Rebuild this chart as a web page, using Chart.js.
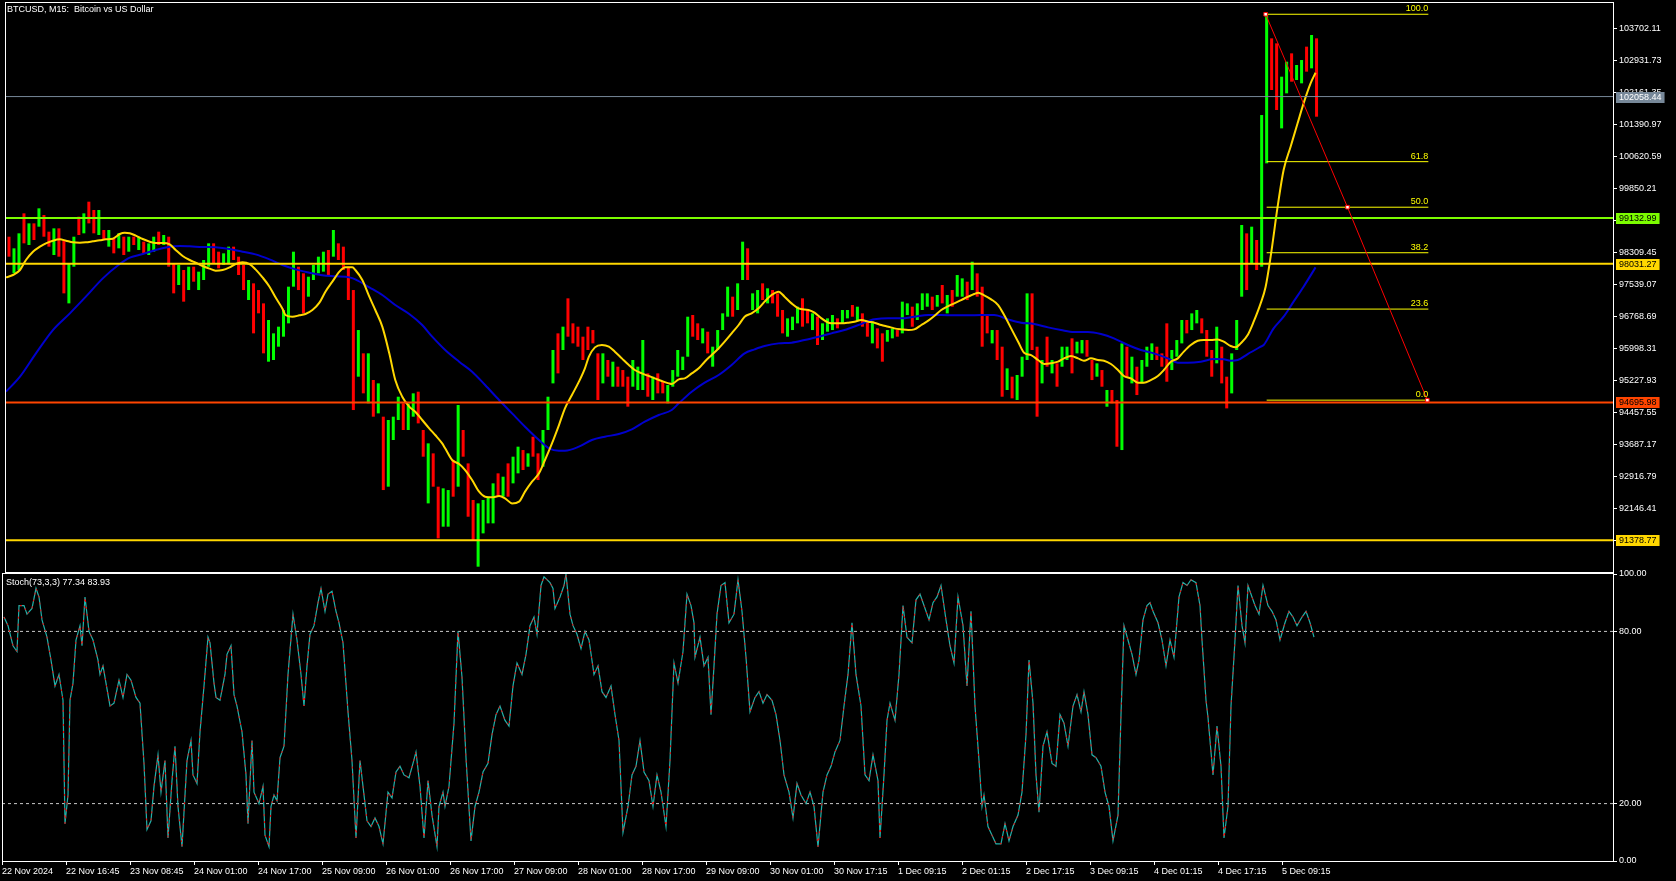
<!DOCTYPE html>
<html><head><meta charset="utf-8">
<script src="https://cdn.jsdelivr.net/npm/chart.js@4.4.1/dist/chart.umd.min.js"></script>
<style>
html,body{margin:0;padding:0;background:#000;}
#wrap{position:relative;width:1676px;height:881px;background:#000;overflow:hidden;}
canvas{position:absolute;left:0;}
#c1{top:0;}
#c2{top:560px;}
</style></head><body>
<div id="wrap">
<canvas id="c1" width="1676" height="573"></canvas>
<canvas id="c2" width="1676" height="321"></canvas>
</div>
<script>
// ---- DATA ----
const chartTitle = 'BTCUSD, M15:  Bitcoin vs US Dollar';
const stochTitle = 'Stoch(73,3,3) 77.34 83.93';
// x-axis labels, one every 64 M15 bars
const xTickLabels = ['22 Nov 2024','22 Nov 16:45','23 Nov 08:45','24 Nov 01:00','24 Nov 17:00','25 Nov 09:00','26 Nov 01:00','26 Nov 17:00','27 Nov 09:00','28 Nov 01:00','28 Nov 17:00','29 Nov 09:00','30 Nov 01:00','30 Nov 17:15','1 Dec 09:15','2 Dec 01:15','2 Dec 17:15','3 Dec 09:15','4 Dec 01:15','4 Dec 17:15','5 Dec 09:15'];
const priceTicks = [91376.03,92146.41,92916.79,93687.17,94457.55,95227.93,95998.31,96768.69,97539.07,98309.45,99079.83,99850.21,100620.59,101390.97,102161.35,102931.73,103702.11];
const stochTicks = [0,20,80,100];
const stochLevels = [80,20];
// candle groups (each = 5 x M15 bars): high, low, direction (g up / r down)
const candleHigh = [
98685,98405,98766,99247,99006,99006,99368,99207,98806,98886,
98886,98605,98043,98685,99167,99247,99528,99328,99328,98846,
98846,98645,98766,98685,98685,98685,98685,98565,98525,98685,
98806,98726,98685,98043,98003,97883,97963,97963,97843,98124,
98525,98525,98324,98284,98445,98445,98204,98003,97642,97562,
97401,97080,96679,96358,96519,96920,97482,98324,97963,97803,
97722,98003,98204,98324,98364,98846,98525,98445,97963,97401,
96438,95877,95877,95235,95154,94352,94272,94352,94833,94673,
94673,94914,94954,94031,93710,93469,92667,
92627,92586,93309,94633,94031,93228,92346,92265,92346,92426,
92747,92988,92907,93228,93389,93630,93549,93469,93870,93469,
94031,94833,95957,96358,96519,97201,96599,96519,96278,96519,
96438,95877,95877,95716,95676,95556,95475,95315,95716,95556,
96198,95395,95315,95395,95195,95114,95475,95957,95796,96759,
96800,96599,96479,96398,96037,96438,96840,97482,97241,97562,
98565,98405,97321,97401,97562,97442,97401,97321,96920,96719,
96759,97000,97201,96920,96840,96759,96599,96719,96800,96719,
96920,96920,97040,97000,96840,96679,
96639,96478,96358,96438,96478,96438,97121,97080,97000,97080,
97321,97321,97241,97281,97522,97281,97401,97762,97682,97602,
98083,97802,97481,96799,96438,96438,96037,95515,95315,95355,
95796,97321,97321,96037,95716,96278,95716,95636,96037,96037,
96238,96157,96197,96197,95716,95636,95475,94994,94994,94753,
96117,96037,95796,95555,95716,96037,96117,96037,95876,96599,
95957,96197,96679,96679,96839,96920,96719,96438,95957,96518,
96037,95315,95876,96679,98966,98765,98926,98605,101614,104062,
103460,103340,102537,102898,103099,102818,102938,103260,103540,103460];
const candleLow = [
98204,97803,97883,98525,98485,98605,98926,98685,98445,98244,
98204,97321,97080,97963,98726,98766,99006,98766,98726,98605,
98445,98284,98405,98244,98324,98485,98364,98284,98244,98324,
98485,98485,97963,97321,97522,97121,97401,97602,97401,97642,
97963,98043,97923,98003,98043,98124,97763,97401,97161,96358,
96840,95877,95676,95716,96037,96278,96599,97482,97401,96840,
97241,97642,97803,97843,97763,98204,98124,97883,97161,94512,
95315,94914,94673,94352,94432,92586,92667,93790,94272,94031,
94031,94352,94191,93389,92265,92667,91423,
91704,91704,92426,92667,93389,91944,91383,90741,91543,91784,
91784,92426,92426,92426,92747,92988,93068,93148,93389,92827,
93148,94031,95154,95395,95957,96278,96117,96037,95716,95957,
96117,94753,95154,95315,95074,95074,95074,94593,95074,94994,
94994,94833,94753,94914,94914,94673,95074,95315,95475,95796,
96278,96198,96117,95877,95556,95957,96438,96759,96759,96920,
97642,97642,96920,96840,97161,97080,97080,96759,96358,96278,
96438,96599,96519,96599,96438,96077,96198,96398,96438,96479,
96599,96719,96759,96679,96519,96278,
96117,95997,95676,96157,96238,96278,96358,96799,96518,96679,
96920,97000,96920,97000,97080,96839,97000,97241,97241,97160,
97401,97241,96037,96358,96117,95716,94833,94994,94793,94753,
95315,95716,95957,94352,95154,95555,95395,95074,95555,95716,
95395,95876,95876,95796,95234,95315,95074,94592,94673,93629,
93549,95315,95154,94873,95154,95555,95716,95716,95555,95194,
95475,95796,96117,96358,96438,96599,96358,95796,95315,95636,
95154,94552,94913,95957,97241,97401,98043,97883,97963,100451,
102216,101735,101293,102136,102417,102457,102377,102658,102738,101574];
const candleDir =
'rggrgrgrrg'+'rrggrgrrgr'+'grgrgrgrgg'+'rgrrgrgrgg'+'grrggrrrgr'+'rrggggggrr'+'ggggrgrrrr'+'grgrgrgggr'+'ggrrgrr'+
'ggrgrrrggg'+'grgrggrgrr'+'gggrgrrrrr'+'rrgrgrrrgg'+'grgrrggggg'+'rrgrggggrg'+'grggrgrrrg'+'ggrrgrgggr'+'ggrgrr'+
'grrggrggrg'+'ggrgrgrggr'+'grrrgrrgrg'+'ggrrgrgrgg'+'rggrrgrgrr'+'grgrgggrrr'+'gggrggrrrg'+'rrgggrgrgg'+'rrggrggrgr';
// moving averages: [M15 bar index, price]
const maFast = [[1,97706],[8,97763],[15,97883],[21,98124],[28,98324],[35,98445],[41,98525],[48,98589],[55,98621],[61,98589],[68,98549],[75,98541],[81,98549],[88,98573],[95,98597],[101,98621],[108,98637],[115,98750],[120,98782],[125,98766],[131,98710],[138,98629],[145,98565],[151,98533],[158,98533],[165,98501],[171,98364],[178,98220],[185,98124],[191,98060],[198,97979],[205,97915],[211,97867],[218,97883],[225,97947],[231,98027],[238,98068],[245,98027],[251,97899],[258,97706],[265,97482],[271,97225],[278,96952],[281,96800],[288,96759],[295,96792],[301,96824],[308,96920],[315,97097],[321,97361],[328,97602],[335,97843],[341,97947],[348,97947],[351,97883],[358,97642],[365,97241],[371,96920],[378,96519],[385,95877],[391,95235],[398,94833],[405,94593],[411,94472],[418,94272],[425,94071],[431,93911],[438,93710],
[441,93590],[448,93309],[455,93212],[461,93068],[468,92827],[475,92546],[481,92426],[488,92410],[495,92442],[501,92386],[508,92265],[515,92306],[521,92547],[528,92787],[535,92988],[541,93309],[548,93710],[555,94151],[561,94553],[568,94874],[575,95195],[581,95516],[585,95796],[591,96021],[598,96077],[605,96037],[611,95917],[618,95756],[625,95596],[631,95475],[638,95395],[645,95331],[651,95275],[658,95211],[665,95154],[668,95138],[675,95251],[681,95275],[688,95395],[695,95516],[701,95676],[708,95837],[715,95997],[721,96158],[728,96358],[735,96559],[741,96759],[748,96840],[755,96960],[761,97121],[768,97281],[775,97361],[781,97241],[788,97080],[795,96960],[805,96920],[811,96856],[818,96719],[825,96615],[831,96599],[838,96599],[845,96615],[851,96639],[858,96679],
[865,96639],[871,96615],[878,96559],[885,96518],[891,96478],[898,96454],[905,96438],[911,96454],[918,96559],[925,96663],[931,96775],[938,96920],[945,97016],[951,97080],[958,97160],[965,97241],[971,97305],[975,97337],[981,97273],[988,97177],[995,97040],[1001,96799],[1008,96478],[1015,96157],[1021,95893],[1028,95836],[1035,95716],[1041,95620],[1048,95636],[1055,95676],[1061,95756],[1068,95812],[1075,95756],[1081,95700],[1088,95756],[1095,95716],[1101,95700],[1108,95620],[1115,95475],[1121,95331],[1128,95275],[1135,95170],[1141,95170],[1148,95234],[1155,95331],[1161,95475],[1168,95676],[1175,95756],[1181,95917],[1188,96077],[1195,96181],[1201,96197],[1208,96197],[1215,96213],[1221,96157],[1228,96053],[1233,96021],[1238,96117],[1245,96318],[1251,96639],[1258,97080],[1263,97481],[1268,98204],[1275,99407],[1281,100290],[1288,100852],[1295,101414],[1301,101895],[1308,102378],[1313,102633]];
const maSlow = [[1,94954],[15,95315],[31,95877],[48,96438],[65,96840],[81,97241],[98,97682],[115,98027],[125,98180],[138,98268],[151,98364],[165,98445],[175,98461],[185,98453],[198,98437],[211,98429],[225,98389],[238,98324],[251,98260],[265,98140],[278,98003],[291,97899],[305,97819],[318,97755],[331,97731],[345,97706],[351,97658],[365,97466],[378,97281],[391,97040],[405,96824],[418,96559],[428,96278],
[441,95957],[455,95676],[468,95435],[481,95114],[495,94753],[508,94432],[521,94111],[535,93790],[545,93590],[555,93533],[561,93533],[575,93630],[588,93790],[601,93870],[615,93935],[628,94047],[641,94232],[655,94392],[668,94512],[675,94673],[688,94954],[701,95171],[715,95355],[728,95596],[741,95877],[751,95973],[761,96053],[775,96117],[788,96134],[801,96198],[815,96278],[828,96358],[841,96438],[855,96559],[868,96679],
[871,96695],[885,96719],[898,96719],[911,96759],[925,96799],[938,96799],[951,96791],[965,96791],[978,96799],[991,96799],[1005,96695],[1018,96615],[1031,96583],[1045,96502],[1058,96438],[1071,96390],[1085,96390],[1098,96342],[1111,96238],[1125,96077],[1138,95957],[1151,95876],[1165,95756],[1175,95652],[1185,95652],[1198,95676],[1211,95740],[1221,95732],[1228,95700],[1235,95716],[1245,95860],[1258,96037],[1261,96077],[1271,96478],[1281,96759],[1291,97121],[1301,97481],[1313,97947]];
// stochastic main line: [M15 bar index, value]; the signal line reads the same at this scale
const stochMain = [[2,85],[6,82],[11,75],[15,73],[17,89],[22,89],[25,86],[30,88],[34,95],[37,92],[40,84],[45,78],[49,70],[53,61],[57,65],[61,56],[63,13],[66,23],[68,56],[71,62],[74,77],[78,82],[80,75],[83,92],[87,80],[91,77],[96,70],[98,65],[101,68],[104,62],[108,54],[112,55],[117,63],[121,57],[125,65],[129,63],[134,57],[138,55],[142,34],[145,11],[149,14],[152,26],[156,37],[159,24],[163,35],[166,8],[170,28],[173,40],[176,19],[180,5],[185,35],[189,42],[191,30],[195,27],[198,45],[202,61],[206,78],[208,76],[212,62],[214,57],[218,56],[223,65],[225,72],[229,75],[232,58],[235,54],[240,45],[244,30],[246,13],[250,42],[252,24],[257,20],[261,26],[263,9],[267,5],[269,19],[272,23],[275,21],[278,36],[282,40],[286,65],[291,86],[295,77],[299,65],[302,54],[305,68],[308,79],[312,82],[316,90],[319,95],[323,87],[326,93],[330,94],[334,87],[337,83],[341,76],[346,52],[350,35],[354,8],[358,35],[361,26],[365,14],[369,12],[373,15],[377,12],[381,6],[386,24],[390,22],[394,31],[398,33],[402,30],[407,29],[411,34],[414,38],[418,26],[422,8],[426,28],[430,16],[435,5],[437,19],[441,24],[443,19],[447,26],[452,48],[456,80],[460,64],[464,36],[469,7],[473,19],[477,24],[481,31],[486,34],[490,44],[494,51],[498,54],[503,49],[507,47],[511,61],[515,69],[520,65],[524,72],[528,82],[532,85],[535,79],[539,96],[542,99],[548,97],[551,95],[553,88],[558,92],[562,96],[564,100],[568,86],[571,82],[575,79],[579,74],[583,80],[587,77],[592,65],[596,68],[600,59],[604,57],[609,61],[613,51],[617,42],[621,10],[626,19],[630,30],[634,33],[638,42],[642,31],[647,28],[651,19],[655,30],[659,24],[664,12],[668,35],[672,69],[676,62],[681,73],[685,93],[689,89],[692,83],[693,71],[698,78],[702,68],[706,71],[709,51],[712,68],[715,86],[719,96],[723,97],[727,83],[732,86],[736,98],[740,87],[744,71],[748,52],[753,57],[757,59],[761,55],[765,58],[770,56],[774,51],[778,42],[782,30],[787,24],[791,15],[795,27],[799,23],[804,20],[808,24],[812,19],[816,5],[821,24],[825,30],[829,33],[833,38],[838,42],[842,54],[846,65],[850,83],[854,65],[859,54],[863,30],[867,28],[871,37],[876,28],[878,8],[882,30],[885,49],[888,55],[893,49],[897,65],[901,89],[905,78],[910,76],[914,91],[918,93],[922,89],[927,84],[931,90],[935,92],[939,96],[944,84],[948,75],[952,69],[956,92],[961,82],[965,61],[969,87],[973,54],[977,35],[980,19],[982,23],[986,12],[990,9],[994,6],[999,6],[1003,13],[1007,7],[1011,12],[1016,16],[1020,24],[1024,44],[1027,70],[1031,55],[1034,30],[1037,17],[1041,40],[1045,45],[1050,34],[1054,33],[1058,51],[1062,48],[1066,40],[1071,54],[1075,58],[1079,52],[1082,59],[1086,51],[1090,37],[1094,36],[1099,33],[1103,24],[1107,19],[1111,7],[1116,16],[1119,51],[1122,82],[1126,77],[1130,72],[1134,65],[1137,70],[1141,84],[1145,89],[1148,90],[1151,87],[1156,83],[1160,77],[1164,68],[1168,77],[1172,71],[1177,92],[1181,97],[1185,96],[1189,98],[1194,97],[1198,89],[1200,77],[1204,56],[1206,50],[1211,30],[1215,47],[1219,33],[1222,8],[1226,19],[1229,54],[1233,77],[1236,96],[1240,82],[1243,76],[1246,96],[1250,92],[1253,89],[1257,86],[1261,96],[1266,89],[1270,87],[1274,84],[1278,77],[1283,83],[1287,87],[1291,85],[1295,82],[1300,85],[1304,87],[1308,83],[1312,78]];
// horizontal price levels: bid, green, gold, orange-red, gold
const levelPrices = [102058.44, 99132.99, 98031.27, 94695.98, 91378.77];
// fibonacci retracement
const fibHigh = 104040, fibLow = 94750;
const fibStartBar = 1264, fibEndBar = 1426;
const fibLevels = [100, 61.8, 50, 38.2, 23.6, 0];

// ---- STYLE / LAYOUT ----
const FONT = 'Liberation Sans';
const X_MAX = 1611;
const levelStyle = [
  {color:'#778899', width:1, text:'#ffffff'},
  {color:'#7CFC00', width:2, text:'#000000'},
  {color:'#FFD700', width:2, text:'#000000'},
  {color:'#FF4500', width:2, text:'#000000'},
  {color:'#FFD700', width:2, text:'#000000'}
];
Chart.defaults.font.family = FONT;
Chart.defaults.font.size = 9;

const candles = candleHigh.map((h,i)=>({x: 4 + 5*i, y:[candleLow[i], h]}));
const candleColors = candleHigh.map((h,i)=> candleDir[i]==='g' ? '#00FF00' : '#FF0000');
const toPts = arr => arr.map(p=>({x:p[0], y:p[1]}));
const fibPrice = l => fibLow + (fibHigh - fibLow) * l / 100;

const datasets1 = [];
datasets1.push({type:'bar', data:candles, backgroundColor:candleColors, barThickness:3, borderWidth:0, grouped:false, inflateAmount:0, order:20});
datasets1.push({type:'line', data:toPts(maSlow), borderColor:'#0000CD', borderWidth:2, pointRadius:0, cubicInterpolationMode:'monotone', order:15});
datasets1.push({type:'line', data:toPts(maFast), borderColor:'#FFD700', borderWidth:2, pointRadius:0, cubicInterpolationMode:'monotone', order:14});
levelPrices.forEach((p,i)=>{
  datasets1.push({type:'line', data:[{x:0,y:p},{x:X_MAX,y:p}], borderColor:levelStyle[i].color, borderWidth:levelStyle[i].width, pointRadius:0, order:10});
});
fibLevels.forEach(l=>{
  datasets1.push({type:'line', data:[{x:fibStartBar,y:fibPrice(l)},{x:fibEndBar,y:fibPrice(l)}], borderColor:'#FFFF00', borderWidth:1, pointRadius:0, order:8});
});
datasets1.push({type:'line', data:[{x:fibStartBar-1,y:fibHigh},{x:(fibStartBar+fibEndBar)/2,y:fibPrice(50)},{x:fibEndBar-1,y:fibLow}],
  borderColor:'#FF0000', borderWidth:1, pointStyle:'rect', pointRadius:2.5, pointBackgroundColor:'#FFFFFF', pointBorderColor:'#FF0000', pointBorderWidth:1, order:1});

function frame(chart){
  const {ctx, chartArea:a} = chart;
  ctx.save();
  ctx.strokeStyle = '#FFFFFF'; ctx.lineWidth = 1;
  ctx.strokeRect(Math.round(a.left)+0.5, Math.round(a.top)-0.5, Math.round(a.right)-Math.round(a.left), Math.round(a.bottom)-Math.round(a.top)+1);
  ctx.restore();
}
// pin the plot rectangle to the panel geometry of the reference
function pinArea(top, bottom){
  return {
    id:'pinArea',
    afterLayout(chart){
      const a = chart.chartArea;
      a.top = top; a.bottom = bottom; a.height = bottom - top;
      Object.values(chart.scales).forEach(s=>{
        if (!s.isHorizontal()) { s.top = top; s.bottom = bottom; s.height = bottom - top; }
        else if (s.position === 'bottom') { s.top = bottom; }
        s.configure();
      });
    }
  };
}

const overlay1 = {
  id:'overlay1',
  afterDatasetsDraw(chart){
    const {ctx, scales:{x,y}} = chart;
    ctx.save();
    ctx.font = '9px "' + FONT + '"';
    ctx.fillStyle = '#FFFF00';
    ctx.textAlign = 'right'; ctx.textBaseline = 'bottom';
    fibLevels.forEach(l=>{
      ctx.fillText(l.toFixed(1), x.getPixelForValue(fibEndBar), Math.round(y.getPixelForValue(fibPrice(l))) - 1);
    });
    ctx.restore();
  },
  afterDraw(chart){
    const {ctx, scales:{y}, chartArea:a} = chart;
    frame(chart);
    ctx.save();
    ctx.font = '9px "' + FONT + '"';
    ctx.textBaseline = 'top'; ctx.textAlign = 'left';
    ctx.fillStyle = '#FFFFFF';
    ctx.fillText(chartTitle, 7, 5);
    ctx.textBaseline = 'middle';
    levelPrices.forEach((p,i)=>{
      const py = Math.round(y.getPixelForValue(p));
      const t = p.toFixed(2);
      const w = ctx.measureText(t).width;
      ctx.fillStyle = levelStyle[i].color;
      ctx.fillRect(a.right + 3, py - 5, w + 6, 11);
      ctx.fillStyle = levelStyle[i].text;
      ctx.fillText(t, a.right + 6, py + 0.5);
    });
    ctx.restore();
  }
};

new Chart(document.getElementById('c1'), {
  type:'bar',
  data:{datasets:datasets1},
  options:{
    responsive:false, animation:false, events:[],
    layout:{padding:{left:2, top:3, right:0, bottom:1}},
    plugins:{legend:{display:false}, tooltip:{enabled:false}},
    scales:{
      x:{type:'linear', min:0, max:X_MAX, offset:false, display:false},
      y:{type:'linear', position:'right', min:90613, max:104311,
         afterFit(s){ s.width = 63; },
         afterBuildTicks(s){ s.ticks = priceTicks.map(v=>({value:v})); },
         ticks:{color:'#FFFFFF', padding:2, autoSkip:false, font:{size:9, family:FONT}, callback:v=>Number(v).toFixed(2)},
         grid:{drawOnChartArea:false, color:'#FFFFFF', tickLength:4},
         border:{display:false}}
    }
  },
  plugins:[pinArea(3, 572), overlay1]
});

const overlay2 = {
  id:'overlay2',
  afterDraw(chart){
    const {ctx} = chart;
    frame(chart);
    ctx.save();
    ctx.font = '9px "' + FONT + '"';
    ctx.fillStyle = '#FFFFFF'; ctx.textBaseline = 'top'; ctx.textAlign = 'left';
    ctx.fillText(stochTitle, 6, chart.chartArea.top + 4);
    ctx.restore();
  }
};

const datasets2 = [];
stochLevels.forEach(v=>{
  datasets2.push({data:[{x:0,y:v},{x:X_MAX,y:v}], borderColor:'#C8C8C8', borderWidth:1, borderDash:[3,3], pointRadius:0, order:5});
});
datasets2.push({data:toPts(stochMain), borderColor:'#20B2AA', borderWidth:1.2, pointRadius:0, order:3});
datasets2.push({data:toPts(stochMain), borderColor:'#FF0000', borderWidth:1, borderDash:[2,5], pointRadius:0, order:2});

new Chart(document.getElementById('c2'), {
  type:'line',
  data:{datasets:datasets2},
  options:{
    responsive:false, animation:false, events:[],
    layout:{padding:{left:2, top:14, right:0, bottom:0}},
    plugins:{legend:{display:false}, tooltip:{enabled:false}},
    scales:{
      x:{type:'linear', min:0, max:X_MAX, offset:false,
         afterFit(s){ s.height = 20; },
         afterBuildTicks(s){ s.ticks = xTickLabels.map((l,i)=>({value:i*64})); },
         ticks:{color:'#FFFFFF', autoSkip:false, maxRotation:0, align:'start', padding:1, font:{size:9, family:FONT}, callback:(v,i)=>xTickLabels[i]},
         grid:{drawOnChartArea:false, color:'#FFFFFF', tickLength:4},
         border:{display:false}},
      y:{type:'linear', position:'right', min:0, max:100,
         afterFit(s){ s.width = 63; },
         afterBuildTicks(s){ s.ticks = stochTicks.map(v=>({value:v})); },
         ticks:{color:'#FFFFFF', padding:2, autoSkip:false, font:{size:9, family:FONT}, callback:v=>Number(v).toFixed(2)},
         grid:{drawOnChartArea:false, color:'#FFFFFF', tickLength:4},
         border:{display:false}}
    }
  },
  plugins:[pinArea(14, 301), overlay2]
});
</script>
</body></html>
